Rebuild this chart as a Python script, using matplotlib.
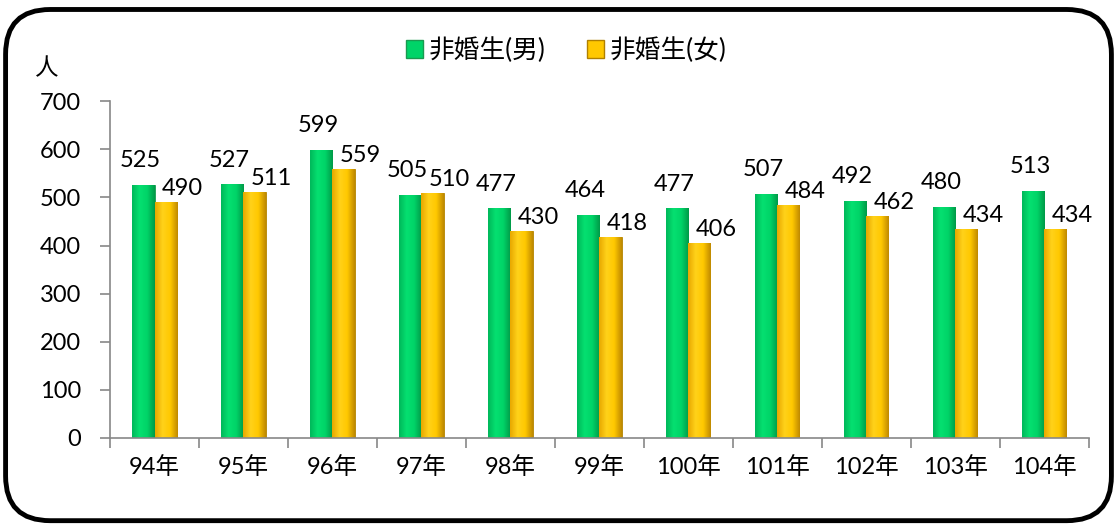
import numpy as np
import matplotlib
matplotlib.use("Agg")
import matplotlib.pyplot as plt
from matplotlib.patches import FancyBboxPatch, Patch
from matplotlib.colors import LinearSegmentedColormap

plt.rcParams['font.family'] = ['Lato', 'Noto Sans CJK TC', 'DejaVu Sans']

# data
years = ['94年', '95年', '96年', '97年', '98年', '99年', '100年', '101年', '102年', '103年', '104年']
male = [525, 527, 599, 505, 477, 464, 477, 507, 492, 480, 513]
female = [490, 511, 559, 510, 430, 418, 406, 484, 462, 434, 434]
series_names = ['非婚生(男)', '非婚生(女)']

green_cmap = LinearSegmentedColormap.from_list('g', ['#00b85a', '#05e070', '#00d468', '#009a48'])
gold_cmap = LinearSegmentedColormap.from_list('y', ['#e8a800', '#ffd21a', '#ffc800', '#c08a00'])

fs = 17

fig = plt.figure(figsize=(11.17, 5.27), dpi=100)
ax = fig.add_axes([0.0985, 0.169, 0.876, 0.639])

x = np.arange(len(years))
w = 0.25
b1 = ax.bar(x - w / 2, male, w, color='#00d468', edgecolor='#1a9a50', linewidth=0.6, zorder=2)
b2 = ax.bar(x + w / 2, female, w, color='#ffc800', edgecolor='#b08000', linewidth=0.6, zorder=2)

# horizontal shading to imitate the bevelled bars
grad = np.linspace(0, 1, 64).reshape(1, -1)
for bars, cmap in ((b1, green_cmap), (b2, gold_cmap)):
    for p in bars:
        x0, y0 = p.get_x(), p.get_y()
        im = ax.imshow(grad, cmap=cmap, aspect='auto', zorder=2.5,
                       extent=(x0, x0 + p.get_width(), y0, y0 + p.get_height()))
        im.set_clip_path(p)

ax.set_xlim(-0.5, len(years) - 0.5)
ax.set_ylim(0, 700)
ax.set_yticks(np.arange(0, 701, 100))
ax.set_xticks(x)
ax.set_xticklabels(years)
ax.set_xticks(np.arange(-0.5, len(years)), minor=True)
ax.tick_params(axis='x', which='major', length=0, pad=13, labelsize=fs)
ax.tick_params(axis='x', which='minor', length=7, color='#888888', width=1.2)
ax.tick_params(axis='y', length=7, color='#888888', width=1.2, pad=14, labelsize=fs)
for s in ('top', 'right'):
    ax.spines[s].set_visible(False)
ax.spines['left'].set_color('#888888')
ax.spines['bottom'].set_color('#888888')
ax.spines['left'].set_linewidth(1.2)
ax.spines['bottom'].set_linewidth(1.2)

for i in range(len(years)):
    ax.annotate(str(male[i]), (x[i] - w / 2, male[i]), xytext=(-2, 10),
                textcoords='offset points', ha='center', va='bottom', fontsize=fs)
    ax.annotate(str(female[i]), (x[i] + w / 2, female[i]), xytext=(12, 2),
                textcoords='offset points', ha='center', va='bottom', fontsize=fs)

fig.text(0.042, 0.87, '人', fontsize=fs, ha='center', va='center')

handles = [Patch(facecolor='#00d468', edgecolor='#1a9a50'),
           Patch(facecolor='#ffc800', edgecolor='#b08000')]
fig.legend(handles, series_names, loc='center', bbox_to_anchor=(0.507, 0.905), ncol=2,
           frameon=False, fontsize=18.5, handlelength=0.65, handleheight=0.65,
           handletextpad=0.25, columnspacing=1.6)

border = FancyBboxPatch((0.005, 0.012), 0.99, 0.97, boxstyle='round,pad=0,rounding_size=0.04',
                        transform=fig.transFigure, fill=False, edgecolor='black', linewidth=3.5,
                        mutation_aspect=1117 / 527)
fig.patches.append(border)

fig.savefig('out.png', dpi=100)
